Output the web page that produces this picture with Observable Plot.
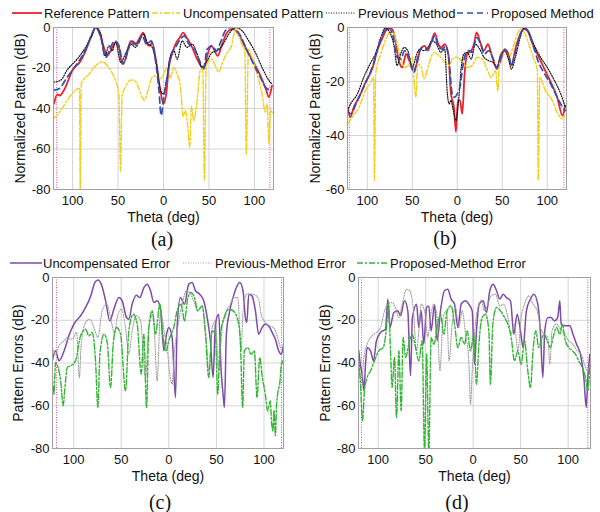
<!DOCTYPE html>
<html><head><meta charset="utf-8">
<script src="https://cdn.jsdelivr.net/npm/d3@7"></script>
<script src="https://cdn.jsdelivr.net/npm/@observablehq/plot@0.6"></script>
<style>
body{margin:0;background:#fff;}
#wrap{position:relative;width:600px;height:512px;overflow:hidden;font-family:"Liberation Sans",Arial,sans-serif;background:#fff;}
.p{position:absolute;}
.p svg{overflow:visible;}
.lt{position:absolute;font-size:13px;line-height:15px;color:#111;white-space:nowrap;transform:translateY(-50%);}
.sw{position:absolute;overflow:visible;}
.cap{position:absolute;font-family:"Liberation Serif","DejaVu Serif",serif;font-size:20px;line-height:18px;transform:translate(-50%,-50%);color:#111;}
</style></head><body><div id="wrap"></div>
<script>
// ---------- data: [theta (deg), dB] ----------
const refA = [[-120.5,-37.7],[-116.8,-33],[-114,-33.6],[-109.5,-31],[-100,-21],[-91,-16.4],[-85.7,-11.5],[-80,-5],[-74.7,0],[-71,-1.6],[-65.6,-9.8],[-62,-14],[-58,-11.5],[-52.7,-7.4],[-49,-9.8],[-45.4,-18],[-41.8,-15.6],[-36,-6.6],[-32.6,-8.2],[-29,-7.4],[-22.3,-2.5],[-18,-8.2],[-15,-9],[-12.5,-7.4],[-8.8,-14.8],[-4,-29.5],[0,-37.7],[3,-32.8],[5.9,-19.7],[9.5,-13],[13.2,-8.2],[18,-4.9],[21.6,-2.5],[25.3,-4.9],[27.8,-6.6],[31.5,-9.8],[37,-15.6],[44.3,-20.5],[48.7,-13],[52.4,-9],[55.3,-10.7],[59.7,-14],[64.5,-8.2],[70,-2.5],[75.5,-0.8],[79,-1.3],[84.6,-4.9],[92,-11.5],[99,-17.2],[106.6,-23.8],[113,-31],[115.8,-34.4],[119.4,-28.7]];
const uncompA = [[-121,-45],[-113,-41],[-106,-36],[-97,-31],[-92.5,-30],[-91.5,-82],[-90.5,-28],[-82,-23],[-75,-19],[-67.5,-17],[-64,-17.7],[-58.5,-21],[-53,-26],[-49,-33],[-47.3,-71],[-45.5,-33.6],[-42,-29.5],[-36.5,-26],[-32.6,-26],[-29,-28],[-23.5,-34.4],[-21,-36],[-17,-31],[-12.5,-24.6],[-8.8,-23.8],[-5,-25.4],[-1.5,-24.6],[1,-22],[4,-19.7],[7.7,-24.6],[11.4,-19.7],[15,-23],[18.7,-29.5],[21.6,-44],[24,-41],[26.7,-49],[28.9,-59],[30.7,-39],[33.3,-46],[37,-36],[40.6,-21],[43.2,-20.5],[45,-75.4],[46.9,-19.7],[49.8,-16.4],[53.5,-15.6],[57,-18.9],[60.8,-22],[64.5,-18],[68,-14],[71.8,-11.5],[75,-9],[77.5,-3],[80,-0.5],[82.4,-3.3],[86,-8.2],[89.5,-11.5],[91.1,-62.6],[93.4,-10.7],[97.4,-14.8],[103,-23],[108.4,-32.8],[112,-41.8],[113.9,-37.7],[116,-57.4],[117.6,-41],[120.5,-42.6]];
const prevA = [[-120.5,-27],[-113,-26],[-106,-21],[-95,-15.6],[-85.7,-9.8],[-78,-3.3],[-74.7,0],[-69,-3.3],[-64.5,-14],[-60,-9],[-56.4,-11.5],[-52.7,-7.4],[-47,-17.2],[-41.8,-13],[-36,-8.2],[-30.8,-9.8],[-25,-4.9],[-21.6,-3.3],[-18,-7.4],[-12.5,-9.8],[-7.7,-18],[-3.3,-31],[0,-32.8],[3.3,-26],[7.7,-14],[11.4,-11.5],[15,-15.6],[20.5,-6.6],[26,-9.8],[31.5,-8.2],[37,-13],[42.5,-19.7],[48,-16.4],[53.5,-12.3],[59,-11.5],[64.5,-9],[71.8,-3.3],[79,0],[86.4,-1.6],[93.8,-6.6],[101,-12.3],[108.4,-19.7],[115.8,-26],[119.4,-27.9]];
const propA = [[-120.5,-31],[-115,-30.3],[-106,-24.6],[-96.7,-18.9],[-89.4,-14],[-84,-9],[-78,-2.5],[-74.7,0],[-69,-4.9],[-63.7,-14.8],[-59,-10.7],[-53.8,-6.6],[-49,-9],[-44.3,-18],[-39.2,-11.5],[-34.4,-6.6],[-29,-9],[-23.4,-4.1],[-18.7,-8.2],[-13.5,-6.6],[-8.8,-16.4],[-5,-31],[-2.6,-43.4],[0.4,-34.4],[4,-24.6],[7.7,-14],[13.2,-9.8],[18.7,-5.7],[23,-4.1],[27.8,-8.2],[33.3,-9.8],[38.8,-15.6],[44.3,-19.7],[48,-10.7],[53.5,-9],[58.2,-11.5],[62.6,-7.4],[68,-1.6],[73.6,0],[79,-0.8],[84.6,-4.1],[92,-11.5],[99,-18],[106.6,-24.6],[114,-30.3],[119.4,-31]];

const refB = [[-122,-29.5],[-119,-33.2],[-115,-29.5],[-109,-25.8],[-102,-20.3],[-94,-14.8],[-89,-8.6],[-83,-3.7],[-78,-0.6],[-74,-0.2],[-70,-2.5],[-65,-12.3],[-61,-14.8],[-57,-9.8],[-54,-11.7],[-49,-16],[-44,-12.3],[-41,-8],[-36,-6.8],[-33,-8.6],[-29,-5.5],[-25,-2.1],[-21,-6.2],[-18,-7.4],[-14,-6.2],[-10,-9.8],[-7,-24.6],[-3.7,-29.5],[-1.5,-38.7],[0.7,-27],[3,-27],[5.6,-32],[8,-17.8],[11,-9.8],[15.5,-8.6],[18.5,-6.2],[21.5,-1.8],[25,-4.9],[29.6,-8.6],[34,-6.2],[39,-11],[44,-15.4],[48,-12.3],[52.6,-8],[56,-9.2],[60,-14],[65,-7.4],[70,-2.5],[74,-0.6],[78,-1.2],[83,-5.5],[89,-9.8],[96,-14.8],[104,-20.3],[111,-25.8],[117,-32.6],[120,-28.9]];
const uncompB = [[-122,-35.7],[-116.7,-33.2],[-109,-29.5],[-102,-23.4],[-96,-20.3],[-93,-18.5],[-92,-56.6],[-90.7,-17.2],[-85,-9.8],[-80,-4.9],[-75,-1.8],[-71,-1.8],[-67,-6.2],[-63,-11],[-58.5,-14.8],[-54,-14.1],[-50,-11],[-47.4,-22],[-46,-25.8],[-44,-13.5],[-40,-14.8],[-37,-19],[-31.5,-13.5],[-26,-9.2],[-20,-10.5],[-15,-12.3],[-9,-14.1],[-5.6,-11.7],[0,-11],[5.6,-12.9],[11,-14.8],[16.7,-14.1],[22,-11],[27.8,-11.7],[33,-15.4],[37.8,-18.5],[42.6,-16],[45,-23.4],[47.4,-9.8],[52,-8.6],[57.4,-11],[62,-7.4],[66.7,-2.5],[70,-0.6],[74,-1.5],[79.6,-6.2],[85,-11.7],[89,-16],[90,-56.6],[91.8,-18.5],[98,-23.4],[105.6,-27],[111,-31.4],[116.7,-33.8],[120,-32]];
const prevB = [[-122,-30.8],[-118.5,-28.3],[-111,-24.6],[-104,-18.5],[-96,-12.9],[-91,-9.8],[-85,-3.7],[-80,-0.2],[-75,-1.8],[-70,-7.4],[-67,-14.1],[-63,-9.8],[-59,-7.4],[-55,-8.6],[-50,-14.8],[-45,-9.8],[-41.5,-8],[-37,-8.6],[-31.5,-6.8],[-28,-4.9],[-23,-6.2],[-18.5,-9.2],[-14,-8],[-11,-24.6],[-9,-28.3],[-7,-27],[-4.4,-30.8],[-1.5,-34.4],[1.5,-27],[4.4,-14.8],[7.4,-9.8],[11,-9.2],[15.5,-11.7],[20,-6.2],[25,-8],[29.6,-11],[35,-12.3],[40,-13],[44,-14.8],[48,-10.5],[52.6,-8.6],[57.4,-12.3],[60,-15.4],[65,-10.5],[70,-3.7],[74,-0.2],[79.6,-1.8],[85,-6.2],[92.6,-11],[100,-14.8],[107,-19],[115,-24.6],[120,-29.5]];
const propB = [[-122,-30.8],[-118.5,-32],[-111,-27],[-104,-22],[-96,-16],[-92,-12.3],[-87,-6.2],[-81,-1.2],[-77,0],[-72,-2.5],[-67,-11],[-63,-11.7],[-58.5,-8.6],[-54,-10.5],[-48,-16.6],[-44,-11],[-39,-7.4],[-34,-8],[-29.6,-6.2],[-25,-3.1],[-20.7,-7.4],[-16.7,-8],[-13,-6.8],[-9.3,-11.7],[-5.6,-24.6],[-3,-25.8],[0,-24.6],[3,-22],[6,-14.8],[9.3,-9.8],[13,-8.6],[16.7,-9.2],[21.5,-3.7],[26,-6.2],[30,-9.8],[35,-8.6],[40,-11.7],[44,-14.8],[48,-11],[52.6,-8.6],[57.4,-10.5],[60,-14],[65,-8.6],[70,-2.5],[75,-0.2],[79.6,-1.8],[85,-7.4],[89.6,-12.3],[96,-16.6],[104,-21],[111,-25.8],[117,-29.5],[120,-30.8]];

const uncErrC = [[-122.4,-39],[-118.9,-34.3],[-115.4,-39],[-110,-34.3],[-105,-27.3],[-99.7,-21.8],[-92.7,-17.9],[-87.4,-14],[-82,-8.6],[-77.6,-2.3],[-74.5,-1.2],[-71,-3.1],[-66.4,-10.9],[-62,-20.3],[-57.7,-14.8],[-52.4,-9.4],[-49,-10.9],[-44.4,-18.7],[-42,-19.5],[-38.5,-12.5],[-34,-8.3],[-30.4,-9.4],[-26.2,-4.7],[-22.7,-3.1],[-19.2,-6.2],[-15.7,-11.7],[-12.2,-10.9],[-8.7,-14.8],[-5.2,-34.3],[-2.4,-26.5],[0,-23.4],[3.5,-28],[7,-56.2],[8.7,-23.4],[12.2,-9.4],[16.4,-12.5],[21,-3.1],[24.5,-2.3],[28,-6.2],[32.5,-7.8],[36.7,-10.9],[40.9,-20.3],[43.7,-29.6],[46.5,-46.8],[49,-21.8],[52.4,-17.2],[55,-43.7],[57,-54.6],[58.4,-60.8],[60.5,-26.5],[64,-15.6],[67.5,-9.4],[71,-4.7],[74.5,-2.3],[78,-6.2],[80.4,-18.7],[82,-21],[84,-7.8],[87.4,-8.6],[91,-15.6],[94.4,-26.5],[98,-23.4],[101.4,-21.8],[106,-23.4],[109.4,-26.5],[112,-28.9],[115.4,-34.3],[118.2,-35.9],[120.6,-31.2]];
const prevErrC = [[-122.4,-32.8],[-119,-35.9],[-115.4,-32],[-110,-29.6],[-106.6,-28],[-101.4,-28.9],[-96.9,-25.7],[-94,-46.8],[-92,-31.2],[-87.4,-21],[-82.9,-19.5],[-78.7,-23.4],[-74.5,-28],[-70,-15.6],[-65.4,-12.5],[-61.2,-18.7],[-57,-26.5],[-54.2,-18.7],[-50,-14.8],[-45.5,-23.4],[-42,-35.9],[-38.5,-25],[-34,-17.9],[-29.7,-20.3],[-24.5,-46.8],[-21,-23.4],[-16.4,-17.2],[-12.2,-48.4],[-8.7,-15.6],[-4.5,-26.5],[-1.7,-32.8],[1,-45.2],[3.5,-49.9],[6,-34.3],[9.4,-23.4],[14,-12.5],[18.5,-6.2],[22,-7],[26.2,-10.9],[30.4,-15.6],[35,-13.3],[39.5,-29.6],[42,-43.7],[45.5,-23.4],[49,-20.3],[52.4,-43.7],[56,-23.4],[60.5,-15.6],[64.7,-12.5],[68,-9.4],[72.4,-9.4],[76,-34.3],[78,-15.6],[82,-7.8],[87.4,-7.8],[92,-8.6],[94.4,-10.1],[97,-17.2],[101.4,-21],[106,-22.6],[110,-23.4],[114.3,-28],[117.8,-32.8],[120.6,-32.8]];
const propErrC = [[-122.4,-45],[-120.6,-54.6],[-119,-39.8],[-116.4,-42],[-113.6,-48.4],[-111,-60],[-109.4,-53],[-106.6,-42],[-103,-41.3],[-98,-39],[-92.7,-27.3],[-87.4,-24.2],[-84,-27.3],[-80.4,-25.7],[-77,-39],[-74.5,-60.8],[-72.4,-35.9],[-68,-26.5],[-64.7,-30.4],[-61.2,-51.5],[-58.4,-31.2],[-55,-23.4],[-50.7,-26.5],[-45.5,-53],[-42,-25],[-37.4,-17.2],[-33.2,-21.8],[-29,-45.2],[-26.2,-26.5],[-23.4,-60.8],[-21,-23.4],[-17.5,-15.6],[-14,-26.5],[-9.4,-12.5],[-6,-28],[-2.8,-34.3],[0,-29.6],[2.4,-26.5],[5.2,-23.4],[8.7,-15.6],[13,-12.5],[16.4,-20.3],[20,-9.4],[23.4,-7],[27,-9.4],[30.4,-15.6],[35,-13.3],[38.5,-26.5],[42,-46.8],[45.5,-25],[49,-26.5],[51.4,-54.6],[54.2,-26.5],[58.4,-18.7],[63,-14.8],[67.5,-15.6],[71.7,-18.7],[75,-28],[77.6,-60.8],[79.4,-34.3],[82.9,-32.8],[86.4,-35.9],[89.9,-34.3],[92.7,-56.2],[95.5,-37.4],[98.3,-46.8],[101.4,-54.6],[103.8,-62.4],[106.6,-57.7],[108,-68],[109.4,-71.8],[110.5,-62],[112,-74],[113.2,-60],[114.3,-54.6],[116.4,-50],[119,-39],[120.6,-40.6]];

const uncErrD = [[-120.4,-34.3],[-118.6,-41.3],[-116.8,-45.2],[-115,-53],[-113.3,-40.6],[-111.6,-32.8],[-108,-34.3],[-105,-39],[-101.8,-29.6],[-97.5,-25.7],[-92.3,-24.2],[-89.8,-10.1],[-87.7,-23.4],[-83.5,-16.4],[-79.3,-15.6],[-76.5,-17.9],[-72.3,-10.9],[-68.8,-15.6],[-66,-46],[-63.9,-18.7],[-59.6,-12.5],[-57.2,-23.4],[-54.7,-15.6],[-52,-31.2],[-49,-14],[-46.7,-13.3],[-44.2,-25],[-40.7,-12.5],[-37.9,-29.6],[-34.4,-15.6],[-30.2,-6.2],[-26.7,-5.5],[-23.2,-10.1],[-19.6,-12.5],[-16.1,-23.4],[-12.6,-12.5],[-8,-10.9],[-4.6,-12.5],[-1,-15.6],[1.4,-40.6],[3.5,-25],[6.3,-12.5],[10.5,-10.9],[14,-16.4],[17.5,-6.2],[21,-3.1],[24.6,-6.2],[28,-10.1],[31.6,-7.8],[35,-9.4],[39.3,-10.9],[42.8,-26.5],[46.3,-17.2],[49.8,-25],[52.6,-32.8],[56,-15.6],[60.3,-10.1],[63.9,-7.8],[68,-12.5],[70.9,-26.5],[73.3,-46.8],[75.4,-25],[78.6,-18.7],[82,-18.7],[85.6,-20.3],[89,-18.7],[91.2,-10.9],[92.6,-21.8],[97,-22.6],[101.8,-22.6],[105,-26.5],[108.8,-31.2],[113,-35.9],[116.5,-46.8],[119,-60.8],[120.7,-46.8],[122.8,-35.9]];
const prevErrD = [[-120.4,-39],[-117.5,-48.4],[-115,-37.4],[-111.6,-31.2],[-106.3,-27.3],[-101.8,-25.7],[-97.5,-23.4],[-93.3,-15.6],[-89.8,-12.5],[-85.3,-11.7],[-81.8,-14],[-78.2,-18.7],[-74.7,-12.5],[-70.2,-5.5],[-66.7,-6.2],[-63.2,-14],[-59.6,-34.3],[-57.2,-25],[-54.7,-12.5],[-51.2,-15.6],[-47.7,-28],[-45,-18.7],[-41.4,-12.5],[-37.9,-18.7],[-35,-43.7],[-31.6,-18.7],[-28,-15.6],[-25.3,-39],[-22.1,-21.8],[-18.6,-14],[-15,-23.4],[-11.6,-15.6],[-8,-26.5],[-4.6,-39],[-2.8,-59.3],[-1,-43.7],[1.4,-26.5],[5,-14],[8.4,-10.9],[12,-15.6],[15.4,-12.5],[19,-8.6],[23.5,-7.8],[28,-13.3],[32.3,-12.5],[36.5,-18.7],[40,-26.5],[43.5,-21.8],[47,-34.3],[50.5,-18.7],[54,-12.5],[58.6,-8.6],[63,-12.5],[67.4,-15.6],[70.9,-23.4],[74.4,-26.5],[78.6,-28],[80.7,-40.6],[83,-25],[87.7,-21.8],[92,-24.2],[96,-26.5],[100.7,-29.6],[105,-31.2],[109.5,-34.3],[113.7,-35.9],[117.2,-40.6],[120.7,-43.7],[122.8,-40.6]];
const propErrD = [[-120.4,-39],[-118.6,-50],[-116.5,-67],[-114.4,-53],[-111.6,-46.8],[-108,-43.7],[-104,-39],[-99.3,-34.3],[-94.7,-32.8],[-91.2,-23.4],[-89,-12.5],[-87,-34.3],[-85.3,-51.5],[-82.8,-37.4],[-80.7,-65.5],[-78.2,-34.3],[-75.8,-62.4],[-73.7,-28],[-71.2,-37.4],[-67.7,-31.2],[-64.2,-26.5],[-60.7,-32.8],[-57.2,-39],[-53.7,-29.6],[-51.2,-82],[-49,-35.9],[-46.7,-82],[-44.2,-28],[-41.4,-31.2],[-37.9,-23.4],[-34.4,-17.2],[-30.9,-26.5],[-27.4,-15.6],[-23.2,-13.3],[-19.6,-21.8],[-16.1,-32.8],[-12.6,-28],[-9.1,-31.2],[-6.3,-25],[-2.8,-34.3],[0.7,-26.5],[3.5,-50],[6,-31.2],[9.5,-18.7],[13,-17.2],[16.5,-25],[18.2,-50],[20.7,-21.8],[24.6,-14],[28.8,-15.6],[33,-18.7],[36.5,-21.8],[40,-28],[43.5,-39],[47,-34.3],[50.5,-40.6],[54,-29.6],[57.5,-43.7],[60.3,-51.5],[63,-34.3],[66,-25],[69,-32.8],[71.6,-29.6],[74.4,-26.5],[77.9,-29.6],[81.4,-32.8],[84.2,-28],[87.7,-23.4],[91.2,-26.5],[93.7,-21.8],[97,-29.6],[100.7,-32.8],[104.2,-34.3],[107.7,-35.9],[111.2,-39],[114.7,-42],[118.2,-46.8],[120.7,-53],[122.8,-40.6]];

const xTicks = [-100, -50, 0, 50, 100];
const yTicksAB = {a: [-80, -60, -40, -20, 0], b: [-60, -40, -20, 0]};
const yTicksCD = [-80, -60, -40, -20, 0];
const legend1 = ["Reference Pattern", "Uncompensated Pattern", "Previous Method", "Proposed Method"];
const legend2 = ["Uncompensated Error", "Previous-Method Error", "Proposed-Method Error"];
const captions = ["(a)", "(b)", "(c)", "(d)"];

// ---------- styles ----------
const S = {
  ref:  {stroke: "#e8232b", strokeWidth: 1.8},
  unc:  {stroke: "#f2cf1a", strokeWidth: 1.4, strokeDasharray: "6,2,2,2"},
  prev: {stroke: "#111111", strokeWidth: 1.2, strokeDasharray: "1,1.5"},
  prop: {stroke: "#2c4fb8", strokeWidth: 1.7, strokeDasharray: "6,4"},
  uErr: {stroke: "#7e4ba6", strokeWidth: 1.5},
  pErr: {stroke: "#9b9b9b", strokeWidth: 1.1, strokeDasharray: "1,1.5"},
  gErr: {stroke: "#35b535", strokeWidth: 1.4, strokeDasharray: "6,2,2,2"}
};

const wrap = document.getElementById("wrap");

function panel(o) {
  const marks = [
    Plot.gridX(xTicks, {stroke: "#d4d4d4", strokeOpacity: 1}),
    Plot.gridY(o.yticks.slice(1, -1), {stroke: "#d4d4d4", strokeOpacity: 1}),
    Plot.ruleX(o.pink, {stroke: "#e2507f", strokeWidth: 1, strokeDasharray: "1,1.5"})
  ];
  for (const [data, st] of o.series) {
    marks.push(Plot.line(data, {x: d => d[0], y: d => Math.max(d[1], -85), curve: "monotone-x", clip: true, ...st}));
  }
  marks.push(
    Plot.frame({stroke: "#a0a0a0"}),
    Plot.axisX(xTicks, {tickSize: 0, tickPadding: 6, tickFormat: d => String(Math.abs(d)), label: null, fontSize: 13}),
    Plot.axisY(o.yticks, {tickSize: 0, tickPadding: 3, tickFormat: d => String(d), label: null, fontSize: 13}),
    Plot.text([o.xlabel], {frameAnchor: "bottom", dy: 32, fontSize: 14, fill: "#111", textAnchor: "middle"}),
    Plot.text([o.ylabel], {frameAnchor: "left", dx: o.ydx, rotate: -90, fontSize: 14, fill: "#111", textAnchor: "middle"})
  );
  const chart = Plot.plot({
    width: o.width, height: o.height,
    marginLeft: o.ml, marginRight: o.mr, marginTop: o.mt, marginBottom: o.mb,
    x: {domain: o.xdom},
    y: {domain: o.ydom},
    style: {fontFamily: '"Liberation Sans", Arial, sans-serif', color: "#111", background: "transparent", overflow: "visible"},
    marks
  });
  const div = document.createElement("div");
  div.className = "p";
  div.style.left = o.left + "px";
  div.style.top = o.top + "px";
  div.appendChild(chart);
  wrap.appendChild(div);
}

panel({left: 0, top: 20, width: 290, height: 215, ml: 53, mr: 17, mt: 7, mb: 46,
  xdom: [-121, 121], ydom: [-80, 0], yticks: yTicksAB.a, pink: [-117.5, 117],
  xlabel: "Theta (deg)", ylabel: "Normalized Pattern (dB)", ydx: -33,
  series: [[refA, S.ref], [uncompA, S.unc], [prevA, S.prev], [propA, S.prop]]});
panel({left: 300, top: 20, width: 290, height: 215, ml: 47, mr: 24, mt: 7, mb: 46,
  xdom: [-122, 121.4], ydom: [-60, 0], yticks: yTicksAB.b, pink: [-120, 118.5],
  xlabel: "Theta (deg)", ylabel: "Normalized Pattern (dB)", ydx: -32,
  series: [[refB, S.ref], [uncompB, S.unc], [prevB, S.prev], [propB, S.prop]]});
panel({left: 0, top: 270, width: 295, height: 230, ml: 52, mr: 12, mt: 7, mb: 52,
  xdom: [-122.2, 120.5], ydom: [-80, 0], yticks: yTicksCD, pink: [-118, 118.4],
  xlabel: "Theta (deg)", ylabel: "Pattern Errors (dB)", ydx: -34,
  series: [[uncErrC, S.uErr], [prevErrC, S.pErr], [propErrC, S.gErr]]});
panel({left: 300, top: 270, width: 300, height: 230, ml: 58, mr: 10, mt: 7, mb: 52,
  xdom: [-120.7, 123.5], ydom: [-80, 0], yticks: yTicksCD, pink: [-117.6, 120.6],
  xlabel: "Theta (deg)", ylabel: "Pattern Errors (dB)", ydx: -33,
  series: [[uncErrD, S.uErr], [prevErrD, S.pErr], [propErrD, S.gErr]]});

// ---------- legends ----------
function legendItem(x1, x2, tx, y, label, st) {
  const ns = "http://www.w3.org/2000/svg";
  const svg = document.createElementNS(ns, "svg");
  svg.setAttribute("class", "sw");
  svg.setAttribute("width", x2 - x1);
  svg.setAttribute("height", 6);
  svg.style.left = x1 + "px";
  svg.style.top = (y - 3) + "px";
  const ln = document.createElementNS(ns, "line");
  ln.setAttribute("x1", 0); ln.setAttribute("x2", x2 - x1);
  ln.setAttribute("y1", 3); ln.setAttribute("y2", 3);
  ln.setAttribute("stroke", st.stroke);
  ln.setAttribute("stroke-width", st.strokeWidth);
  if (st.strokeDasharray) ln.setAttribute("stroke-dasharray", st.strokeDasharray);
  svg.appendChild(ln);
  wrap.appendChild(svg);
  const t = document.createElement("div");
  t.className = "lt";
  t.style.left = tx + "px";
  t.style.top = y + "px";
  t.textContent = label;
  wrap.appendChild(t);
}
legendItem(12, 42, 44, 13, legend1[0], S.ref);
legendItem(152, 180, 183, 13, legend1[1], S.unc);
legendItem(326, 355, 358, 13, legend1[2], S.prev);
legendItem(457, 488, 491, 13, legend1[3], S.prop);
legendItem(10, 42, 43, 263, legend2[0], S.uErr);
legendItem(183, 213, 215, 263, legend2[1], S.pErr);
legendItem(357, 388, 390, 263, legend2[2], S.gErr);

// ---------- captions ----------
[[162, 239], [445, 238], [160, 502], [457, 502]].forEach(([x, y], i) => {
  const c = document.createElement("div");
  c.className = "cap";
  c.style.left = x + "px";
  c.style.top = y + "px";
  c.textContent = captions[i];
  wrap.appendChild(c);
});
</script>
</body></html>
